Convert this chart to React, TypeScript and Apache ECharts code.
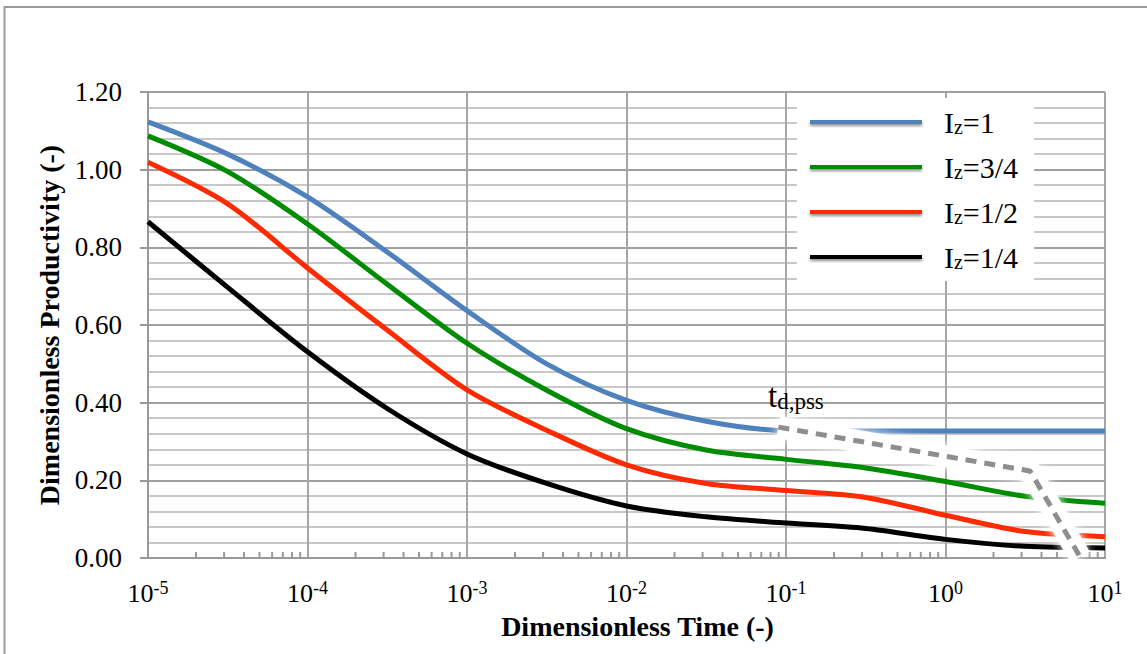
import React, { useEffect, useRef } from "react";
import * as echarts from "echarts";

// Dimensionless time (x) sample points
const times = [1e-5, 3.16e-5, 1e-4, 3.16e-4, 1e-3, 3.16e-3, 1e-2, 3.16e-2, 1e-1, 3.16e-1, 1, 3.16, 10];
// Dimensionless productivity per curve
const iz1 = [1.123, 1.04, 0.93, 0.788, 0.637, 0.5, 0.406, 0.352, 0.328, 0.327, 0.327, 0.327, 0.327];
const iz34 = [1.087, 0.995, 0.86, 0.705, 0.553, 0.432, 0.333, 0.278, 0.254, 0.232, 0.197, 0.159, 0.141];
const iz12 = [1.019, 0.912, 0.747, 0.587, 0.433, 0.329, 0.24, 0.192, 0.174, 0.156, 0.11, 0.068, 0.055];
const iz14 = [0.866, 0.697, 0.531, 0.385, 0.268, 0.192, 0.134, 0.106, 0.09, 0.076, 0.048, 0.03, 0.026];

const seriesNames = ["Iz=1", "Iz=3/4", "Iz=1/2", "Iz=1/4"];
const seriesValues = [iz1, iz34, iz12, iz14];
const seriesColors = ["#4f81bd", "#008c00", "#ff2a00", "#000000"];

// t_d,pss annotation polyline
const annotT = [0.0896, 3.39, 6.97];
const annotP = [0.337, 0.224, 0.003];

// minor log ticks on x axis
const decades = [1e-5, 1e-4, 1e-3, 1e-2, 1e-1, 1];
const minorMultipliers = [2, 3, 4, 5, 6, 7, 8, 9];

const FONT = "'Liberation Serif', 'Times New Roman', serif";

export default function App() {
  const ref = useRef<HTMLDivElement>(null);
  useEffect(() => {
    if (!ref.current) return;
    const chart = echarts.init(ref.current, undefined, { renderer: "svg" });

    const minorTicks: number[][] = [];
    decades.forEach((d) => minorMultipliers.forEach((m) => minorTicks.push([d * m, 0])));

    const curveSeries = seriesNames.map((name, i) => ({
      name,
      type: "line",
      smooth: 0.3,
      symbol: "none",
      data: times.map((t, j) => [t, seriesValues[i][j]]),
      lineStyle: { color: seriesColors[i], width: 5 },
      itemStyle: { color: seriesColors[i] },
      z: 3,
    }));

    const option: any = {
      animation: false,
      backgroundColor: "#ffffff",
      grid: { left: 148, right: 42, top: 92, bottom: 96, containLabel: false },
      xAxis: {
        type: "log",
        logBase: 10,
        min: 1e-5,
        max: 10,
        splitNumber: 6,
        name: "Dimensionless Time (-)",
        nameLocation: "middle",
        nameGap: 54,
        nameTextStyle: {
          fontFamily: FONT,
          fontWeight: "bold",
          fontSize: 28,
          color: "#000",
          padding: [0, 0, 0, 22],
        },
        axisLine: { show: true, lineStyle: { color: "#999", width: 2 } },
        axisTick: { show: false },
        splitLine: { show: true, lineStyle: { color: "#a6a6a6", width: 2 } },
        axisLabel: {
          interval: 0,
          margin: 21,
          fontFamily: FONT,
          fontSize: 26,
          color: "#000",
          formatter: (v: number) => {
            const e = Math.round(Math.log10(v));
            return "{b|10}{sup|" + e + "}";
          },
          rich: {
            b: { fontFamily: FONT, fontSize: 26, lineHeight: 28, color: "#000" },
            sup: { fontFamily: FONT, fontSize: 18, lineHeight: 16, verticalAlign: "top", color: "#000" },
          },
        },
      },
      yAxis: {
        type: "value",
        min: 0,
        max: 1.2,
        interval: 0.2,
        name: "Dimensionless Productivity (-)",
        nameLocation: "middle",
        nameGap: 84,
        nameRotate: 90,
        nameTextStyle: { fontFamily: FONT, fontWeight: "bold", fontSize: 28, color: "#000" },
        axisLine: { show: true, lineStyle: { color: "#999", width: 2 } },
        axisTick: { show: true, inside: false, length: 8, lineStyle: { color: "#999", width: 2 } },
        minorTick: { show: false, splitNumber: 5 },
        minorSplitLine: { show: true, lineStyle: { color: "#c8c8c8", width: 2 } },
        splitLine: { show: true, lineStyle: { color: "#a0a0a0", width: 2 } },
        axisLabel: {
          margin: 26,
          fontFamily: FONT,
          fontSize: 27,
          color: "#000",
          formatter: (v: number) => v.toFixed(2),
        },
      },
      legend: {
        orient: "vertical",
        left: 797,
        top: 98,
        backgroundColor: "#ffffff",
        padding: [9, 16, 9, 13],
        itemWidth: 112,
        itemHeight: 4,
        itemGap: 15,
        icon: "rect",
        data: seriesNames,
        itemStyle: { shadowBlur: 3, shadowColor: "rgba(0,0,0,0.45)", shadowOffsetY: 2 },
        textStyle: {
          fontFamily: FONT,
          fontSize: 30,
          lineHeight: 30,
          color: "#000",
          padding: [0, 0, 0, 17],
          rich: {
            z: { fontFamily: FONT, fontSize: 20, lineHeight: 16, verticalAlign: "bottom", color: "#000" },
          },
        },
        formatter: (name: string) => "I{z|z}" + name.slice(2),
      },
      graphic: [
        {
          type: "rect",
          silent: true,
          shape: { x: 4.5, y: 7, width: 1300, height: 800 },
          style: { fill: "none", stroke: "#9a9a9a", lineWidth: 2 },
        },
        {
          type: "text",
          left: 768,
          top: 379,
          silent: true,
          z: 10,
          style: {
            text: "t{s|d,pss}",
            fontFamily: FONT,
            fontSize: 33,
            lineHeight: 34,
            fill: "#000",
            rich: {
              s: { fontFamily: FONT, fontSize: 23, lineHeight: 21, verticalAlign: "bottom", fill: "#000" },
            },
          },
        },
      ],
      series: [
        ...curveSeries,
        {
          name: "minorTicks",
          type: "custom",
          silent: true,
          z: 4,
          data: minorTicks,
          renderItem: (params: any, api: any) => {
            const p = api.coord([api.value(0), 0]);
            return {
              type: "line",
              shape: { x1: p[0], y1: p[1], x2: p[0], y2: p[1] - 6 },
              style: { stroke: "#999", lineWidth: 2 },
            };
          },
        },
        {
          name: "glow",
          type: "line",
          symbol: "none",
          silent: true,
          clip: false,
          z: 5,
          data: annotT.map((t, i) => [t, annotP[i]]),
          lineStyle: {
            color: "#ffffff",
            opacity: 1,
            width: 22,
            shadowBlur: 10,
            shadowColor: "rgba(255,255,255,1)",
          },
        },
        {
          name: "tdpss",
          type: "line",
          symbol: "none",
          silent: true,
          clip: false,
          z: 6,
          data: annotT.map((t, i) => [t, annotP[i]]),
          lineStyle: { color: "#8e8e8e", width: 5, type: [11, 8], cap: "butt" },
        },
      ],
    };
    chart.setOption(option);
    return () => chart.dispose();
  }, []);
  return (
    <div
      ref={ref}
      style={{ position: "absolute", left: 0, top: 0, width: 1147, height: 654 }}
    />
  );
}
